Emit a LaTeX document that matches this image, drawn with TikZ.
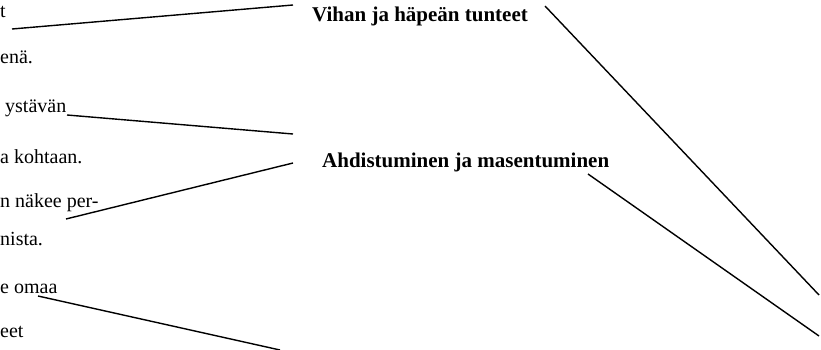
\documentclass[tikz,border=0pt]{standalone}
\usepackage{fontspec}
\setmainfont{Liberation Serif}
\begin{document}
\begin{tikzpicture}[x=1pt,y=-1pt,
  body/.style={anchor=base west,inner sep=0pt,font=\fontsize{20}{24}\selectfont},
  head/.style={anchor=base west,inner sep=0pt,font=\fontsize{21}{25}\selectfont\bfseries},
  link/.style={line width=1.4pt,line cap=butt}]
\useasboundingbox (0,0) rectangle (821,350);
% left column of cropped text
\node[body] (t1) at (0,18) {t};
\node[body] (t2) at (0,64) {enä.};
\node[body] (t3) at (5,113) {ystävän};
\node[body] (t4) at (0,163) {a kohtaan.};
\node[body] (t5) at (0,207) {n näkee per-};
\node[body] (t6) at (0,245) {nista.};
\node[body] (t7) at (0,293) {e omaa};
\node[body] (t8) at (0,337) {eet};
% headings
\node[head] (h1) at (312,22) {Vihan ja häpeän tunteet};
\node[head] (h2) at (322,167) {Ahdistuminen ja masentuminen};
% connector end points
\coordinate (a1) at (12,29);   \coordinate (b1) at (293,5);
\coordinate (a2) at (67,115);  \coordinate (b2) at (293,134);
\coordinate (a3) at (66,219);  \coordinate (b3) at (293,163);
\coordinate (a4) at (38,296);  \coordinate (b4) at (280,350);
\coordinate (a5) at (545,6);   \coordinate (b5) at (819,295);
\coordinate (a6) at (588,174); \coordinate (b6) at (819,336);
\begin{scope}
\clip (0,0) rectangle (821,350);
\draw[link] (a1) -- (b1);
\draw[link] (a2) -- (b2);
\draw[link] (a3) -- (b3);
\draw[link] (a4) -- (b4);
\draw[link] (a5) -- (b5);
\draw[link] (a6) -- (b6);
\end{scope}
\end{tikzpicture}
\end{document}
